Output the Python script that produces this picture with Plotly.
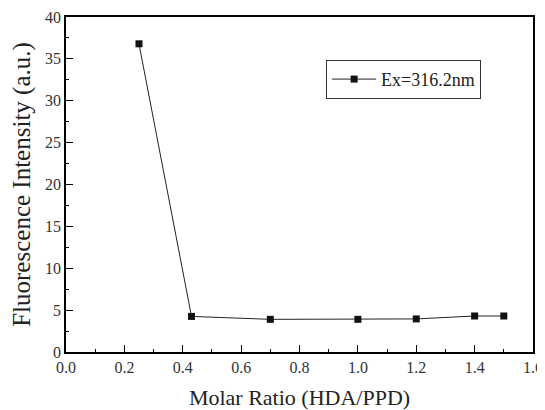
import plotly.graph_objects as go

molar_ratio = [0.25, 0.43, 0.70, 1.00, 1.20, 1.40, 1.50]
intensity = [36.8, 4.25, 3.9, 3.9, 3.95, 4.3, 4.3]
series_name = "Ex=316.2nm"
x_ticks = [0.0, 0.2, 0.4, 0.6, 0.8, 1.0, 1.2, 1.4, 1.6]
y_ticks = [0, 5, 10, 15, 20, 25, 30, 35, 40]

font = "Liberation Serif"

fig = go.Figure()
fig.add_trace(go.Scatter(
    x=molar_ratio, y=intensity, name=series_name,
    mode="lines+markers",
    line=dict(color="#222222", width=1),
    marker=dict(symbol="square", size=7, color="#111111"),
))

axis_common = dict(
    showline=True, linecolor="black", linewidth=1.5, mirror=True,
    ticks="inside", ticklen=7, tickwidth=1.2, tickcolor="black",
    showgrid=False, zeroline=False, automargin=False,
    tickfont=dict(family=font, size=16, color="#333333"),
)

fig.update_xaxes(
    range=[0, 1.6], tickvals=x_ticks, ticktext=[f"{v:.1f}" for v in x_ticks],
    minor=dict(ticks="inside", ticklen=3, tickcolor="black", dtick=0.1, tick0=0),
    title=dict(text="Molar Ratio (HDA/PPD)", font=dict(family=font, size=22, color="#222222"), standoff=15),
    **axis_common,
)
fig.update_yaxes(
    range=[0, 40], tickvals=y_ticks,
    minor=dict(ticks="inside", ticklen=3, tickcolor="black", dtick=2.5, tick0=0),
    title=dict(text="Fluorescence Intensity (a.u.)", font=dict(family=font, size=25, color="#222222"), standoff=13),
    **axis_common,
)

fig.update_layout(
    width=537, height=402,
    margin=dict(l=58, r=12, t=9, b=58),
    plot_bgcolor="white", paper_bgcolor="white",
    font=dict(family=font),
    showlegend=True,
    legend=dict(
        x=0.557, y=0.872, xanchor="left", yanchor="top",
        bordercolor="#333333", borderwidth=1, bgcolor="white",
        font=dict(family=font, size=18, color="#222222"),
        itemwidth=44,
    ),
)

fig.write_html("out.html")
